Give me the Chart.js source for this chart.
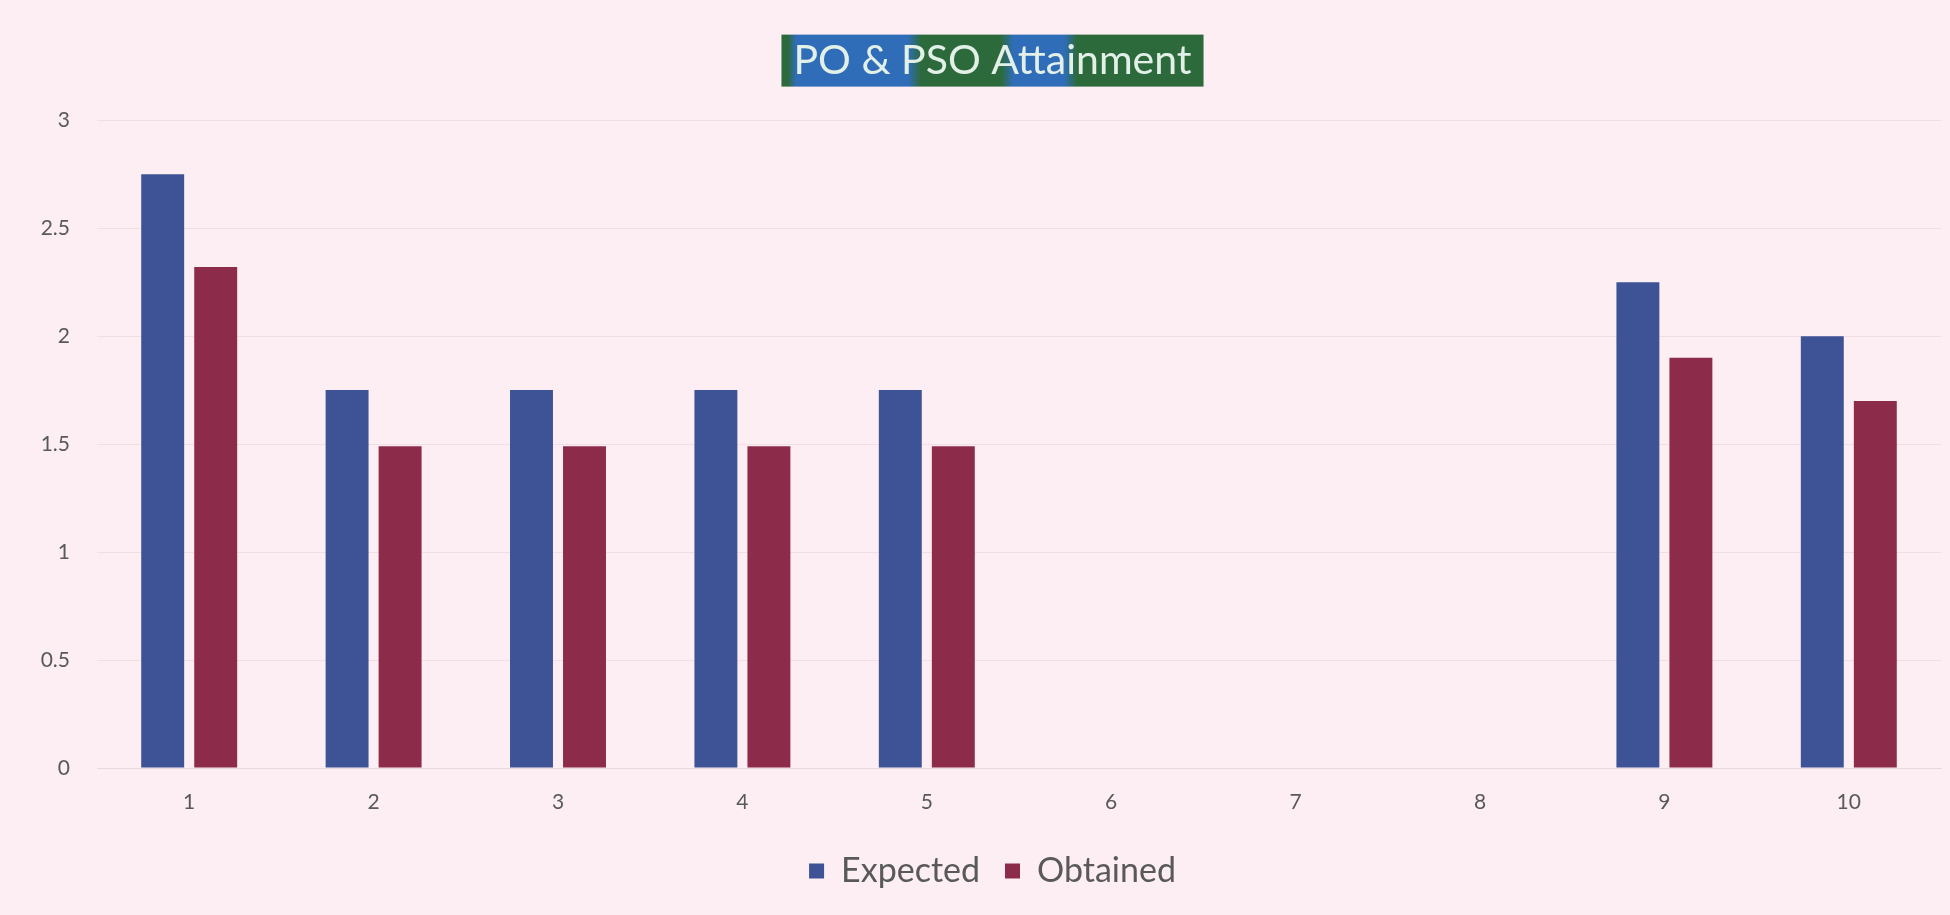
<!DOCTYPE html>
<html>
<head>
<meta charset="utf-8">
<script src="https://cdn.jsdelivr.net/npm/chart.js@4.4.1/dist/chart.umd.min.js"></script>
<style>
  html, body { margin: 0; padding: 0; background: #fdeef3; }
  #wrap { width: 1950px; height: 915px; position: relative; }
  canvas { display: block; }
</style>
</head>
<body>
<div id="wrap"><canvas id="c" width="1950" height="915"></canvas></div>
<script>
const categories = ['1', '2', '3', '4', '5', '6', '7', '8', '9', '10'];
const expected = [2.75, 1.75, 1.75, 1.75, 1.75, null, null, null, 2.25, 2.0];
const obtained = [2.32, 1.49, 1.49, 1.49, 1.49, null, null, null, 1.9, 1.7];
const seriesNames = ['Expected', 'Obtained'];
const titleText = 'PO & PSO Attainment';
const yTicks = [0, 0.5, 1, 1.5, 2, 2.5, 3];

const FONT = 'Lato, "Open Sans", sans-serif';

// Centre title and legend on the same axis as the original (slightly right of canvas centre)
const shiftBlocksPlugin = {
  id: 'shiftBlocks',
  afterLayout(chart) {
    const dx = 22;
    [chart.titleBlock, chart.legend].forEach(b => {
      if (b) { b.left += dx; b.right += dx; }
    });
  }
};

const titleBoxPlugin = {
  id: 'titleBox',
  beforeDraw(chart) {
    const tb = chart.titleBlock;
    if (!tb) return;
    const ctx = chart.ctx;
    const f = chart.options.plugins.title.font;
    ctx.save();
    ctx.font = f.weight + ' ' + f.size + 'px ' + f.family;
    const w = ctx.measureText(titleText).width;
    const cx = (tb.left + tb.right) / 2;
    const padT = chart.options.plugins.title.padding.top;
    const cy = tb.top + padT + f.size * 1.2 / 2;
    const x0 = cx - w / 2 - 12, x1 = cx + w / 2 + 12;
    const y0 = cy - 26, y1 = cy + 26;
    const g = ctx.createLinearGradient(x0, 0, x1, 0);
    const GREEN = '#2c6a3c', BLUE = '#2f6db8';
    g.addColorStop(0, GREEN);
    g.addColorStop(0.015, GREEN);
    g.addColorStop(0.035, BLUE);
    g.addColorStop(0.30, BLUE);
    g.addColorStop(0.33, GREEN);
    g.addColorStop(0.52, GREEN);
    g.addColorStop(0.55, BLUE);
    g.addColorStop(0.67, BLUE);
    g.addColorStop(0.70, GREEN);
    g.addColorStop(1, GREEN);
    ctx.fillStyle = g;
    ctx.fillRect(x0, y0, x1 - x0, y1 - y0);
    ctx.restore();
  }
};

new Chart(document.getElementById('c'), {
  type: 'bar',
  data: {
    labels: categories,
    datasets: [
      { label: seriesNames[0], data: expected, backgroundColor: '#3d5396',
        categoryPercentage: 0.575, barPercentage: 0.81 },
      { label: seriesNames[1], data: obtained, backgroundColor: '#8c2c4a',
        categoryPercentage: 0.575, barPercentage: 0.81 }
    ]
  },
  plugins: [shiftBlocksPlugin, titleBoxPlugin],
  options: {
    responsive: false,
    animation: false,
    layout: { padding: { left: 0, right: 9, top: 0, bottom: 17 } },
    plugins: {
      title: {
        display: true,
        text: titleText,
        color: '#e2f0e8',
        font: { family: FONT, size: 41, weight: 'normal' },
        padding: { top: 36, bottom: 35 }
      },
      legend: {
        display: true,
        position: 'bottom',
        labels: {
          color: '#595959',
          font: { family: FONT, size: 34 },
          boxWidth: 15, boxHeight: 15,
          padding: 25
        }
      },
      tooltip: { enabled: false }
    },
    scales: {
      x: {
        grid: { display: false, drawTicks: false },
        border: { display: true, color: '#ecd6de' },
        ticks: { color: '#595959', font: { family: FONT, size: 21 }, padding: 22 },
        afterFit(s) { s.height = 61; }
      },
      y: {
        min: 0, max: 3,
        afterBuildTicks(s) { s.ticks = yTicks.map(v => ({ value: v })); },
        grid: { color: '#f3dde5', drawTicks: false },
        border: { display: false },
        ticks: { color: '#595959', font: { family: FONT, size: 21 }, padding: 27,
          callback: v => String(v) },
        afterFit(s) { s.width = 97; }
      }
    }
  }
});
</script>
</body>
</html>
